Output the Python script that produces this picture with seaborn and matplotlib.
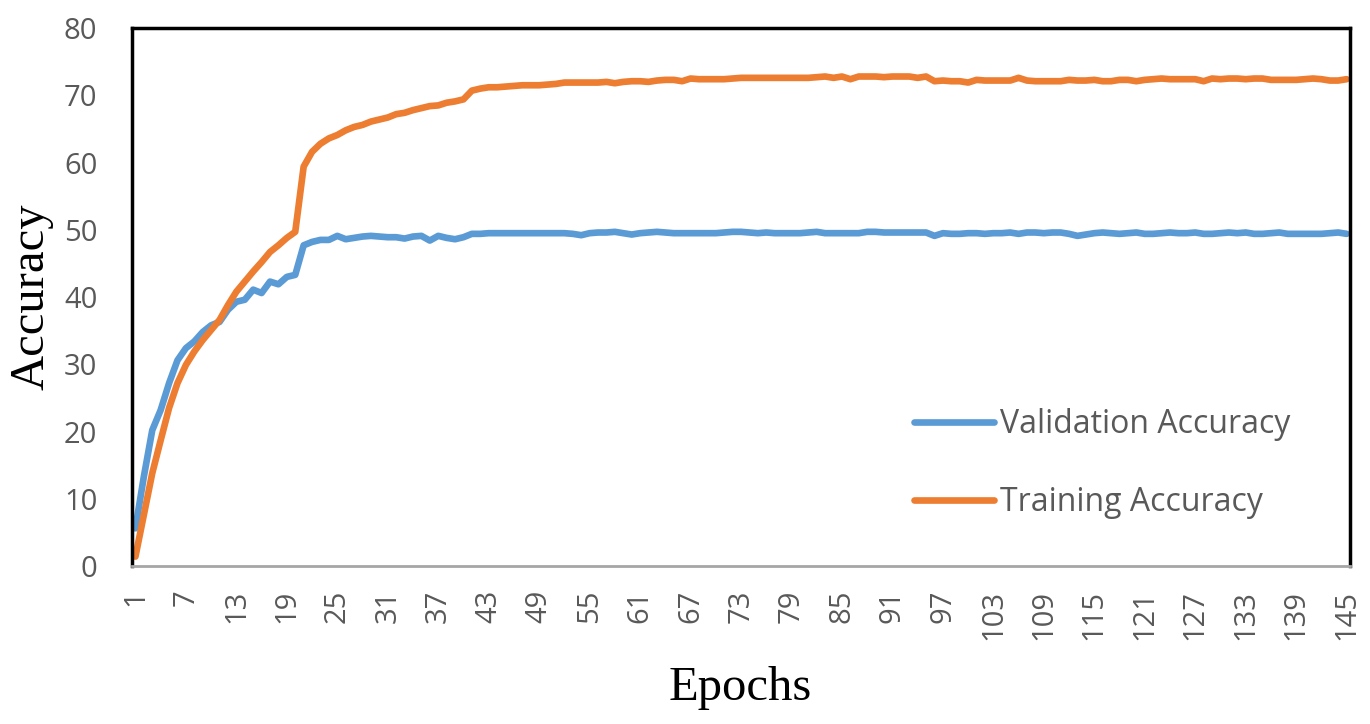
# plot.py

import matplotlib
matplotlib.use("Agg")
import pandas as pd
import matplotlib.pyplot as plt
import seaborn as sns

# ---------------------------------------------------
# Data (accuracy per epoch)
# ---------------------------------------------------
epochs = list(range(1, 146))

validation_acc = [
    5.6, 13.3, 20.2, 23.2, 27.2, 30.6, 32.4, 33.4, 34.8, 35.8,
    36.3, 38.1, 39.3, 39.6, 41.1, 40.6, 42.3, 41.9, 43.0, 43.3,
    47.7, 48.2, 48.5, 48.5, 49.1, 48.6, 48.8, 49.0, 49.1, 49.0,
    48.9, 48.9, 48.7, 49.0, 49.1, 48.4, 49.1, 48.8, 48.6, 48.9,
    49.4, 49.4, 49.5, 49.5, 49.5, 49.5, 49.5, 49.5, 49.5, 49.5,
    49.5, 49.5, 49.4, 49.2, 49.5, 49.6, 49.6, 49.7, 49.5, 49.3,
    49.5, 49.6, 49.7, 49.6, 49.5, 49.5, 49.5, 49.5, 49.5, 49.5,
    49.6, 49.7, 49.7, 49.6, 49.5, 49.6, 49.5, 49.5, 49.5, 49.5,
    49.6, 49.7, 49.5, 49.5, 49.5, 49.5, 49.5, 49.7, 49.7, 49.6,
    49.6, 49.6, 49.6, 49.6, 49.6, 49.1, 49.5, 49.4, 49.4, 49.5,
    49.5, 49.4, 49.5, 49.5, 49.6, 49.4, 49.6, 49.6, 49.5, 49.6,
    49.6, 49.4, 49.1, 49.3, 49.5, 49.6, 49.5, 49.4, 49.5, 49.6,
    49.4, 49.4, 49.5, 49.6, 49.5, 49.5, 49.6, 49.4, 49.4, 49.5,
    49.6, 49.5, 49.6, 49.4, 49.4, 49.5, 49.6, 49.4, 49.4, 49.4,
    49.4, 49.4, 49.5, 49.6, 49.4,
]

training_acc = [
    1.4, 7.6, 13.8, 18.7, 23.5, 27.2, 29.9, 31.9, 33.6, 35.1,
    36.6, 38.8, 40.8, 42.3, 43.8, 45.2, 46.7, 47.7, 48.8, 49.7,
    59.4, 61.6, 62.8, 63.6, 64.1, 64.8, 65.3, 65.6, 66.1, 66.4,
    66.7, 67.2, 67.4, 67.8, 68.1, 68.4, 68.5, 68.9, 69.1, 69.4,
    70.7, 71.0, 71.2, 71.2, 71.3, 71.4, 71.5, 71.5, 71.5, 71.6,
    71.7, 71.9, 71.9, 71.9, 71.9, 71.9, 72.0, 71.8, 72.0, 72.1,
    72.1, 72.0, 72.2, 72.3, 72.3, 72.1, 72.5, 72.4, 72.4, 72.4,
    72.4, 72.5, 72.6, 72.6, 72.6, 72.6, 72.6, 72.6, 72.6, 72.6,
    72.6, 72.7, 72.8, 72.6, 72.8, 72.4, 72.8, 72.8, 72.8, 72.7,
    72.8, 72.8, 72.8, 72.6, 72.8, 72.1, 72.2, 72.1, 72.1, 71.9,
    72.3, 72.2, 72.2, 72.2, 72.2, 72.6, 72.2, 72.1, 72.1, 72.1,
    72.1, 72.3, 72.2, 72.2, 72.3, 72.1, 72.1, 72.3, 72.3, 72.1,
    72.3, 72.4, 72.5, 72.4, 72.4, 72.4, 72.4, 72.1, 72.5, 72.4,
    72.5, 72.5, 72.4, 72.5, 72.5, 72.3, 72.3, 72.3, 72.3, 72.4,
    72.5, 72.4, 72.2, 72.2, 72.4,
]

series_names = ["Validation Accuracy", "Training Accuracy"]
series_colors = ["#5B9BD5", "#ED7D31"]
x_ticks = list(range(1, 146, 6))
y_ticks = list(range(0, 81, 10))

df = pd.DataFrame({
    "Epoch": epochs + epochs,
    "Accuracy": validation_acc + training_acc,
    "Series": [series_names[0]] * len(epochs) + [series_names[1]] * len(epochs),
})

# ---------------------------------------------------
# Figure
# ---------------------------------------------------
sns.set_style("white")
plt.rcParams["font.family"] = ["Open Sans", "DejaVu Sans"]

fig = plt.figure(figsize=(13.7, 7.24), dpi=100)
ax = fig.add_axes([0.0964, 0.2182, 0.889, 0.743])

sns.lineplot(data=df, x="Epoch", y="Accuracy", hue="Series",
             palette=dict(zip(series_names, series_colors)),
             linewidth=4.8, ax=ax, sort=False,
             solid_capstyle="round", solid_joinstyle="round")

ax.set_xlim(0.6, 145.4)
ax.set_ylim(0, 80)
ax.set_xticks(x_ticks)
ax.set_xticklabels([str(t) for t in x_ticks], rotation=90)
ax.set_yticks(y_ticks)
ax.tick_params(axis="both", length=0, labelsize=21, labelcolor="#595959")
ax.tick_params(axis="y", pad=25)
ax.tick_params(axis="x", pad=17)
ax.set_xlabel("")
ax.set_ylabel("")

for side in ["left", "top", "right"]:
    ax.spines[side].set_color("black")
    ax.spines[side].set_linewidth(2.5)
ax.spines["bottom"].set_color("#A6A6A6")
ax.spines["bottom"].set_linewidth(2)

fig.text(740 / 1370, 1 - 688 / 724, "Epochs", ha="center", va="center",
         family="Liberation Serif", fontsize=35, color="black")
fig.text(32 / 1370, 1 - 297 / 724, "Accuracy", ha="center", va="center",
         rotation=90, family="Liberation Serif", fontsize=35, color="black")

handles, labels = ax.get_legend_handles_labels()
leg = ax.legend(handles, labels, loc="center left",
                bbox_to_anchor=(0.642, 0.1905), frameon=False,
                fontsize=23, handlelength=2.5, handletextpad=0.2,
                labelspacing=1.4, borderpad=0, borderaxespad=0)
for txt in leg.get_texts():
    txt.set_color("#595959")
for line in leg.get_lines():
    line.set_linewidth(4.8)
    line.set_solid_capstyle("round")

fig.savefig("out.png", dpi=100)
